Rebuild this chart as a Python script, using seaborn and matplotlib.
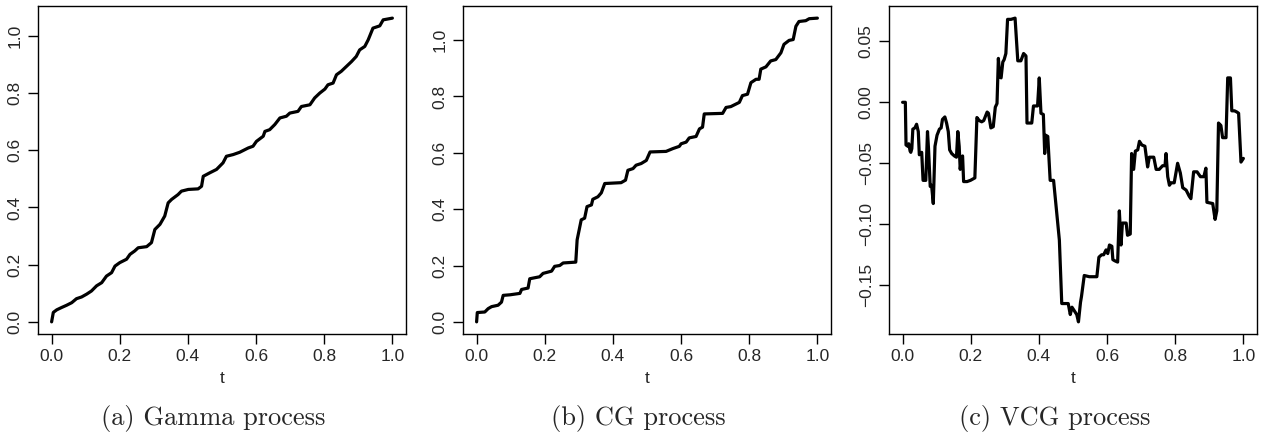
import matplotlib
matplotlib.use("Agg")
import matplotlib.pyplot as plt
import matplotlib.ticker as mticker
import seaborn as sns
import pandas as pd

# Values
gamma_t = [0, 0.005, 0.015, 0.029, 0.044, 0.059, 0.073, 0.088, 0.103, 0.117, 0.132, 0.147,
           0.161, 0.176, 0.186, 0.200, 0.220, 0.230, 0.244, 0.254, 0.279, 0.293, 0.303, 0.318,
           0.332, 0.342, 0.352, 0.371, 0.381, 0.401, 0.430, 0.440, 0.445, 0.464, 0.484, 0.503,
           0.513, 0.533, 0.552, 0.577, 0.591, 0.601, 0.621, 0.626, 0.640, 0.655, 0.670, 0.689,
           0.699, 0.723, 0.733, 0.758, 0.772, 0.787, 0.802, 0.811, 0.826, 0.836, 0.850, 0.865,
           0.880, 0.894, 0.904, 0.919, 0.929, 0.943, 0.963, 0.973, 1.0]
gamma_y = [0, 0.033, 0.042, 0.050, 0.058, 0.067, 0.081, 0.087, 0.097, 0.108, 0.126, 0.137,
           0.160, 0.172, 0.195, 0.207, 0.219, 0.236, 0.248, 0.259, 0.263, 0.277, 0.323, 0.341,
           0.370, 0.416, 0.428, 0.445, 0.457, 0.463, 0.465, 0.474, 0.509, 0.521, 0.533, 0.556,
           0.579, 0.585, 0.593, 0.608, 0.614, 0.631, 0.649, 0.666, 0.672, 0.690, 0.713, 0.719,
           0.730, 0.736, 0.753, 0.759, 0.783, 0.800, 0.814, 0.829, 0.835, 0.864, 0.876, 0.893,
           0.910, 0.928, 0.951, 0.963, 0.986, 1.027, 1.035, 1.056, 1.062]

cg_t = [0, 0.002, 0.024, 0.034, 0.044, 0.063, 0.073, 0.078, 0.098, 0.127, 0.132, 0.151,
        0.156, 0.185, 0.195, 0.220, 0.229, 0.244, 0.254, 0.291, 0.295, 0.307, 0.317, 0.324,
        0.337, 0.341, 0.356, 0.366, 0.376, 0.424, 0.437, 0.444, 0.459, 0.468, 0.483, 0.498,
        0.509, 0.556, 0.576, 0.595, 0.600, 0.615, 0.624, 0.644, 0.654, 0.663, 0.668, 0.722,
        0.732, 0.746, 0.771, 0.780, 0.795, 0.805, 0.820, 0.829, 0.834, 0.849, 0.863, 0.878,
        0.893, 0.902, 0.917, 0.929, 0.937, 0.946, 0.966, 0.976, 1.0]
cg_y = [0, 0.033, 0.035, 0.047, 0.054, 0.059, 0.070, 0.094, 0.096, 0.101, 0.115, 0.120,
        0.153, 0.160, 0.172, 0.180, 0.197, 0.200, 0.209, 0.212, 0.291, 0.362, 0.368, 0.409,
        0.415, 0.435, 0.444, 0.458, 0.491, 0.494, 0.503, 0.538, 0.544, 0.556, 0.562, 0.573,
        0.603, 0.605, 0.615, 0.623, 0.632, 0.638, 0.653, 0.658, 0.685, 0.691, 0.738, 0.740,
        0.761, 0.764, 0.779, 0.803, 0.808, 0.849, 0.861, 0.861, 0.897, 0.905, 0.926, 0.931,
        0.955, 0.985, 0.999, 1.002, 1.049, 1.066, 1.069, 1.076, 1.078]

vcg_t = [0, 0.008, 0.010, 0.015, 0.018, 0.022, 0.024, 0.027, 0.030, 0.036, 0.041, 0.046,
         0.049, 0.052, 0.056, 0.060, 0.068, 0.073, 0.076, 0.081, 0.085, 0.090, 0.095, 0.101,
         0.108, 0.113, 0.117, 0.124, 0.129, 0.134, 0.138, 0.144, 0.152, 0.158, 0.162, 0.166,
         0.169, 0.173, 0.176, 0.179, 0.189, 0.199, 0.212, 0.218, 0.225, 0.232, 0.238, 0.248,
         0.252, 0.259, 0.266, 0.272, 0.277, 0.281, 0.285, 0.289, 0.294, 0.298, 0.303, 0.308,
         0.318, 0.330, 0.338, 0.347, 0.355, 0.362, 0.365, 0.379, 0.384, 0.396, 0.401, 0.406,
         0.413, 0.417, 0.420, 0.426, 0.433, 0.443, 0.460, 0.467, 0.479, 0.486, 0.492, 0.497,
         0.504, 0.511, 0.516, 0.522, 0.525, 0.533, 0.548, 0.570, 0.576, 0.584, 0.590, 0.597,
         0.602, 0.607, 0.614, 0.617, 0.623, 0.631, 0.636, 0.641, 0.645, 0.656, 0.660, 0.668,
         0.672, 0.678, 0.683, 0.690, 0.695, 0.702, 0.711, 0.719, 0.724, 0.737, 0.744, 0.753,
         0.763, 0.770, 0.773, 0.778, 0.783, 0.788, 0.797, 0.807, 0.815, 0.822, 0.832, 0.841,
         0.846, 0.854, 0.864, 0.874, 0.884, 0.890, 0.893, 0.910, 0.917, 0.922, 0.927, 0.934,
         0.939, 0.949, 0.954, 0.962, 0.966, 0.974, 0.981, 0.986, 0.993, 1.0]
vcg_y = [0.0, 0.0, -0.035, -0.036, -0.034, -0.040, -0.041, -0.038, -0.022, -0.021, -0.018, -0.024,
         -0.043, -0.042, -0.041, -0.064, -0.064, -0.024, -0.038, -0.069, -0.068, -0.083, -0.036, -0.027,
         -0.022, -0.021, -0.014, -0.012, -0.017, -0.024, -0.039, -0.042, -0.044, -0.045, -0.024, -0.036,
         -0.055, -0.045, -0.044, -0.065, -0.065, -0.064, -0.062, -0.0125, -0.015, -0.016, -0.015, -0.008,
         -0.009, -0.021, -0.020, -0.004, -0.001, 0.036, 0.021, 0.020, 0.033, 0.035, 0.040, 0.068,
         0.068, 0.069, 0.034, 0.034, 0.040, 0.038, -0.017, -0.017, -0.003, -0.003, 0.020, -0.009,
         -0.010, -0.042, -0.027, -0.028, -0.064, -0.064, -0.113, -0.165, -0.165, -0.165, -0.174, -0.168,
         -0.171, -0.174, -0.180, -0.164, -0.159, -0.142, -0.143, -0.143, -0.127, -0.125, -0.125, -0.121,
         -0.124, -0.117, -0.118, -0.129, -0.130, -0.131, -0.089, -0.117, -0.099, -0.099, -0.109, -0.108,
         -0.042, -0.055, -0.040, -0.039, -0.032, -0.035, -0.036, -0.053, -0.045, -0.045, -0.055, -0.055,
         -0.052, -0.052, -0.042, -0.061, -0.068, -0.066, -0.066, -0.050, -0.058, -0.070, -0.072, -0.077,
         -0.079, -0.057, -0.057, -0.061, -0.061, -0.054, -0.082, -0.083, -0.096, -0.089, -0.017, -0.019,
         -0.029, -0.029, 0.020, 0.020, -0.007, -0.007, -0.008, -0.009, -0.049, -0.046]

captions = ["(a) Gamma process", "(b) CG process", "(c) VCG process"]
yticks = [[0.0, 0.2, 0.4, 0.6, 0.8, 1.0], [0.0, 0.2, 0.4, 0.6, 0.8, 1.0],
          [-0.15, -0.10, -0.05, 0.00, 0.05]]
ydigits = [1, 1, 2]

sns.set_style("ticks")
plt.rcParams["font.family"] = ["Liberation Sans", "DejaVu Sans"]


def fmt(nd):
    # R style labels with a real minus sign
    return mticker.FuncFormatter(lambda v, p: f"{v:.{nd}f}".replace("-", "\u2212"))


fig = plt.figure(figsize=(12.66, 4.37), dpi=100)

# axes boxes (left) in figure fractions; same vertical placement for all
lefts = [0.0300, 0.3657, 0.7022]
cap_x = [0.168, 0.504, 0.833]
series = [(gamma_t, gamma_y), (cg_t, cg_y), (vcg_t, vcg_y)]

for i, (tt, yy) in enumerate(series):
    ax = fig.add_axes([lefts[i], 0.2357, 0.2907, 0.7506])
    df = pd.DataFrame({"t": tt, "value": yy})
    sns.lineplot(data=df, x="t", y="value", ax=ax, color="black",
                 linewidth=2.3, estimator=None, sort=False)
    ax.margins(x=0.04, y=0.04)
    ax.set_xticks([0.0, 0.2, 0.4, 0.6, 0.8, 1.0])
    ax.xaxis.set_major_formatter(fmt(1))
    ax.set_yticks(yticks[i])
    ax.yaxis.set_major_formatter(fmt(ydigits[i]))
    ax.tick_params(axis="both", labelsize=12.5, length=7, width=1, color="black", pad=4)
    plt.setp(ax.get_yticklabels(), rotation=90, va="center")
    ax.set_xlabel("t", fontsize=12.5, labelpad=5)
    ax.set_ylabel("")
    for s in ax.spines.values():
        s.set_visible(True)
        s.set_color("black")
        s.set_linewidth(1.0)
    fig.text(cap_x[i], 0.043, captions[i], ha="center", va="center",
             fontsize=19, family="cmr10")

fig.savefig("out.png", dpi=100)
